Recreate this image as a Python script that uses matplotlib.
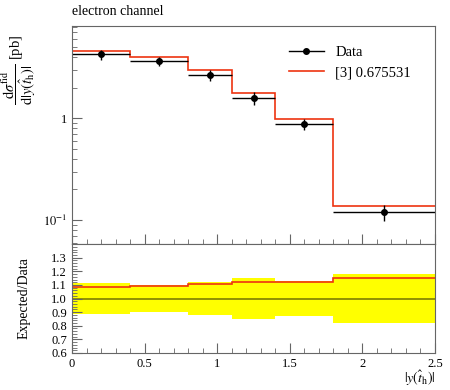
import matplotlib
matplotlib.use("Agg")
import matplotlib.pyplot as plt
import numpy as np
from matplotlib.lines import Line2D
from matplotlib.ticker import MultipleLocator, FixedLocator, LogLocator, NullFormatter

plt.rcParams['font.family'] = 'serif'
plt.rcParams['font.serif'] = ['Liberation Serif', 'DejaVu Serif']
plt.rcParams['mathtext.fontset'] = 'stix'

# binning in |y(t_h)|
bin_edges = [0.0, 0.4, 0.8, 1.1, 1.4, 1.8, 2.5]
# measured cross section [pb] and its uncertainty
data_vals = [4.26, 3.66, 2.67, 1.58, 0.873, 0.120]
data_errs = [0.48, 0.37, 0.32, 0.24, 0.112, 0.022]
# expected (MC) cross section [pb]
mc_vals = [4.63, 4.00, 2.96, 1.776, 0.978, 0.138]

edges = np.array(bin_edges)
centers = 0.5 * (edges[:-1] + edges[1:])
halfw = 0.5 * np.diff(edges)
data = np.array(data_vals)
derr = np.array(data_errs)
mc = np.array(mc_vals)

red = '#ee3311'
frame = '#666666'

fig = plt.figure(figsize=(4.5, 3.9), dpi=100)
ax = fig.add_axes([0.16, 0.374, 0.8067, 0.5593])
rax = fig.add_axes([0.16, 0.095, 0.8067, 0.279])

# main panel
ax.stairs(mc, edges, color=red, lw=1.2, baseline=None)
ax.errorbar(centers, data, xerr=halfw, yerr=derr, fmt='o', color='black',
            ms=4, lw=1.0, capsize=0)
ax.set_yscale('log')
ax.set_xlim(0, 2.5)
ax.set_ylim(0.058, 8.1)
ax.yaxis.set_major_locator(FixedLocator([0.1, 1]))
ax.set_yticklabels([r'$10^{-1}$', '1'])
ax.yaxis.set_minor_locator(LogLocator(base=10, subs=np.arange(2, 10)))
ax.yaxis.set_minor_formatter(NullFormatter())
ax.xaxis.set_major_locator(MultipleLocator(0.5))
ax.xaxis.set_minor_locator(MultipleLocator(0.1))
ax.tick_params(axis='x', labelbottom=False)
ax.tick_params(which='both', direction='in', top=False, right=False, colors=frame,
               labelcolor='black', labelsize=9)
ax.tick_params(which='major', length=7)
ax.tick_params(which='minor', length=3.5)
ax.set_ylabel(r'$\dfrac{\mathrm{d}\sigma^{\mathrm{fid}}}{\mathrm{d}|y(\hat{t}_{\mathrm{h}})|}$ [pb]',
              fontsize=10.5)
ax.yaxis.set_label_coords(-0.095, 0.80)
ax.text(0.0, 1.035, 'electron channel', transform=ax.transAxes, fontsize=10,
        ha='left', va='bottom')
handles = [Line2D([], [], color='black', marker='o', ms=4, lw=1.0),
           Line2D([], [], color=red, lw=1.2)]
ax.legend(handles, ['Data', '[3] 0.675531'], loc='upper right',
          bbox_to_anchor=(0.97, 0.97), frameon=False, fontsize=10.5, handlelength=2.4)

# ratio panel
ratio_mc = mc / data
rel = derr / data
rax.stairs(1 + rel, edges, baseline=1 - rel, fill=True, color='#ffff00', lw=0)
rax.stairs(np.ones(len(data)), edges, color='black', alpha=0.5, lw=1.2, baseline=None)
rax.stairs(ratio_mc, edges, color=red, lw=1.2, baseline=None)
rax.set_xlim(0, 2.5)
rax.set_ylim(0.6, 1.4)
rax.yaxis.set_major_locator(FixedLocator([0.6, 0.7, 0.8, 0.9, 1.0, 1.1, 1.2, 1.3]))
rax.yaxis.set_minor_locator(MultipleLocator(0.02))
rax.set_yticklabels(['0.6', '0.7', '0.8', '0.9', '1.0', '1.1', '1.2', '1.3'])
rax.xaxis.set_minor_locator(MultipleLocator(0.1))
rax.set_xticks([0, 0.5, 1, 1.5, 2, 2.5])
rax.set_xticklabels(['0', '0.5', '1', '1.5', '2', '2.5'])
rax.tick_params(which='both', direction='in', top=False, right=False, colors=frame,
                labelcolor='black', labelsize=9)
rax.tick_params(which='major', length=7)
rax.tick_params(which='minor', length=3.5)
rax.set_ylabel('Expected/Data', fontsize=10)
rax.yaxis.set_label_coords(-0.115, 0.5)
rax.set_xlabel(r'$|y(\hat{t}_{\mathrm{h}})|$', fontsize=10)
rax.xaxis.set_label_coords(1.0, -0.23)
rax.xaxis.label.set_horizontalalignment('right')
rax.xaxis.label.set_verticalalignment('center')

for a in (ax, rax):
    for s in a.spines.values():
        s.set_color(frame)
        s.set_linewidth(0.8)

fig.savefig('out.png', dpi=100)
